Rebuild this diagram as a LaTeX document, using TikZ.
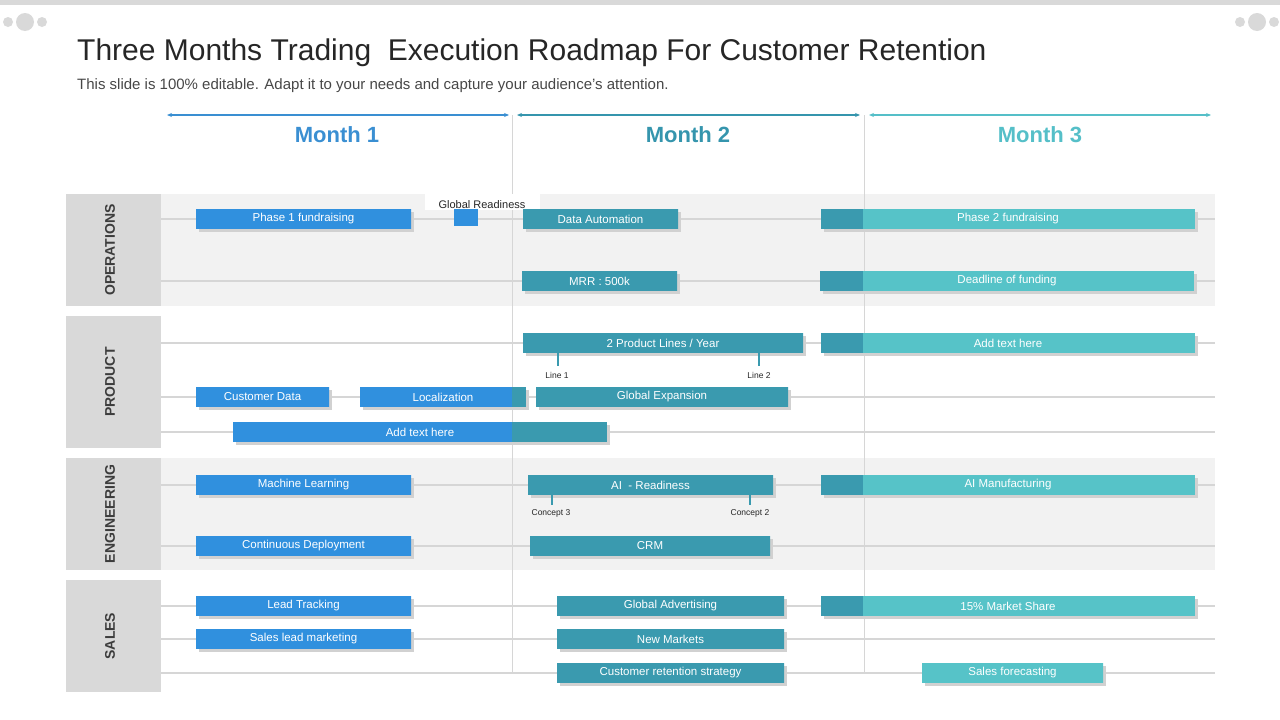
\documentclass[tikz,border=0pt]{standalone}
\usepackage{fontspec}
\setmainfont{Liberation Sans}
\usetikzlibrary{arrows.meta}
\definecolor{cblue}{HTML}{3090DE}
\definecolor{cteal}{HTML}{3A9AAF}
\definecolor{clt}{HTML}{56C3C8}
\definecolor{m1}{HTML}{3A8FD2}
\definecolor{m2}{HTML}{3595AD}
\definecolor{m3}{HTML}{55BFC8}
\definecolor{bandc}{HTML}{F2F2F2}
\definecolor{labc}{HTML}{D9D9D9}
\definecolor{gline}{HTML}{D6D6D6}
\definecolor{ttl}{HTML}{262626}
\tikzset{
 bartext/.style={text=white,font=\fontsize{11.5}{12}\selectfont,inner sep=0},
 small/.style={text=ttl,font=\fontsize{8.5}{9}\selectfont,inner sep=1},
 rowlab/.style={rotate=90,text=ttl!90,font=\bfseries\fontsize{14}{15}\selectfont},
 month/.style={font=\bfseries\fontsize{22}{24}\selectfont},
 grid/.style={gline,line width=1.2},
 shad/.style={black!18},
 tick/.style={cteal,line width=2.5}
}
\newcommand\sbar[8]{%
 \fill[shad] (#2+3,#5-10+3) rectangle (#4+3,#5+10+3);
 \fill[#6] (#2,#5-10) rectangle (#3,#5+10);
 \fill[#7] (#3,#5-10) rectangle (#4,#5+10);
 \node[bartext] (#1) at ({(#2+#4)/2},#5) {#8};}
\begin{document}
\begin{tikzpicture}[x=1pt,y=-1pt]
\useasboundingbox (0,0) rectangle (1280,720);
\fill[labc] (0,0) rectangle (1280,5);
% decorations
\foreach \cx in {25,1257}{
 \fill[labc] (\cx,22) circle (9);
 \fill[labc] (\cx-17,22) circle (5);
 \fill[labc] (\cx+17,22) circle (5);}
\node[anchor=west,text=ttl,font=\fontsize{30}{32}\selectfont,inner sep=0] (title) at (77,53) {Three Months Trading\ \ Execution Roadmap For Customer Retention};
\node[anchor=west,text=ttl!85,font=\fontsize{15}{16}\selectfont,inner sep=0] (sub) at (77,86) {This slide is 100\% editable. Adapt it to your needs and capture your audience's attention.};
% bands
\fill[bandc] (161,194) rectangle (1215,306);
\fill[bandc] (161,458) rectangle (1215,570);
\fill[labc] (66,194) rectangle (161,306);
\fill[labc] (66,316) rectangle (161,448);
\fill[labc] (66,458) rectangle (161,570);
\fill[labc] (66,580) rectangle (161,692);
\node[rowlab] (lop) at (110,250) {OPERATIONS};
\node[rowlab] (lpr) at (110,382) {PRODUCT};
\node[rowlab] (len) at (110,514) {ENGINEERING};
\node[rowlab] (lsa) at (110,636) {SALES};
% grid lines
\foreach \yy in {219,281,343,397,432,485,546,606,639,673}
 \draw[grid] (161,\yy) -- (1215,\yy);
\draw[gline] (512,115) -- (512,672);
\draw[gline] (864,115) -- (864,672);
% month arrows
\draw[m1,line width=1.5,{Stealth[length=5pt,width=4pt]}-{Stealth[length=5pt,width=4pt]}] (167,115) -- (509,115);
\draw[m2,line width=1.5,{Stealth[length=5pt,width=4pt]}-{Stealth[length=5pt,width=4pt]}] (517,115) -- (860,115);
\draw[m3,line width=1.5,{Stealth[length=5pt,width=4pt]}-{Stealth[length=5pt,width=4pt]}] (869,115) -- (1211,115);
\node[month,text=m1] (mo1) at (337,135) {Month 1};
\node[month,text=m2] (mo2) at (688,135) {Month 2};
\node[month,text=m3] (mo3) at (1040,135) {Month 3};
% operations
\sbar{p1}{196}{411}{411}{219}{cblue}{cblue}{Phase 1 fundraising}
\fill[white] (425,194) rectangle (540,210);
\fill[cblue] (454,209) rectangle (478,226);
\node[small,font=\fontsize{11}{12}\selectfont] (gr) at (482,205) {Global Readiness};
\sbar{da}{523}{678}{678}{219}{cteal}{cteal}{Data Automation}
\sbar{p2}{821}{863}{1195}{219}{cteal}{clt}{Phase 2 fundraising}
\sbar{mrr}{522}{677}{677}{281}{cteal}{cteal}{MRR : 500k}
\sbar{dl}{820}{863}{1194}{281}{cteal}{clt}{Deadline of funding}
% product
\sbar{pl}{523}{803}{803}{343}{cteal}{cteal}{2 Product Lines / Year}
\draw[tick] (558,353) -- (558,366);
\draw[tick] (759,353) -- (759,366);
\node[small] (l1) at (557,375) {Line 1};
\node[small] (l2) at (759,375) {Line 2};
\sbar{at1}{821}{863}{1195}{343}{cteal}{clt}{Add text here}
\sbar{cd}{196}{329}{329}{397}{cblue}{cblue}{Customer Data}
\sbar{loc}{360}{512}{526}{397}{cblue}{cteal}{Localization}
\sbar{ge}{536}{788}{788}{397}{cteal}{cteal}{Global Expansion}
\sbar{at2}{233}{512}{607}{432}{cblue}{cteal}{Add text here}
% engineering
\sbar{ml}{196}{411}{411}{485}{cblue}{cblue}{Machine Learning}
\sbar{ai}{528}{773}{773}{485}{cteal}{cteal}{AI\ \ - Readiness}
\draw[tick] (552,495) -- (552,505);
\draw[tick] (750,495) -- (750,505);
\node[small] (c3) at (551,513) {Concept 3};
\node[small] (c2) at (750,513) {Concept 2};
\sbar{aim}{821}{863}{1195}{485}{cteal}{clt}{AI Manufacturing}
\sbar{cdp}{196}{411}{411}{546}{cblue}{cblue}{Continuous Deployment}
\sbar{crm}{530}{770}{770}{546}{cteal}{cteal}{CRM}
% sales
\sbar{lt}{196}{411}{411}{606}{cblue}{cblue}{Lead Tracking}
\sbar{ga}{557}{784}{784}{606}{cteal}{cteal}{Global Advertising}
\sbar{ms}{821}{863}{1195}{606}{cteal}{clt}{15\% Market Share}
\sbar{slm}{196}{411}{411}{639}{cblue}{cblue}{Sales lead marketing}
\sbar{nm}{557}{784}{784}{639}{cteal}{cteal}{New Markets}
\sbar{crs}{557}{784}{784}{673}{cteal}{cteal}{Customer retention strategy}
\sbar{sf}{922}{1103}{1103}{673}{clt}{clt}{Sales forecasting}
\end{tikzpicture}
\end{document}
